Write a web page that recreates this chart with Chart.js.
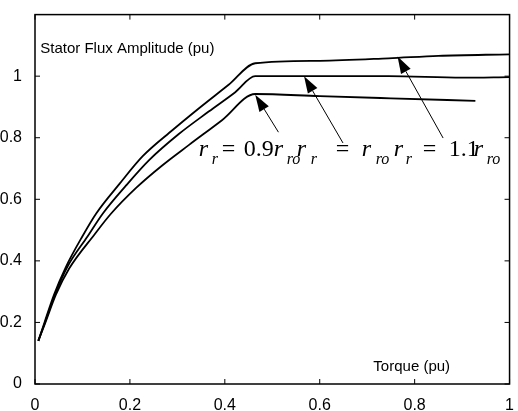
<!DOCTYPE html>
<html>
<head>
<meta charset="utf-8">
<script src="https://cdn.jsdelivr.net/npm/chart.js@4.4.1/dist/chart.umd.min.js"></script>
<style>
  html, body { margin: 0; padding: 0; background: #fff; }
  canvas { display: block; }
</style>
</head>
<body>
<canvas id="fluxChart" width="518" height="411"></canvas>
<script>
// values
const torqueHigh = [0.007, 0.020, 0.040, 0.065, 0.100, 0.129, 0.178, 0.227, 0.290, 0.345, 0.408, 0.464, 0.600, 0.745, 0.850, 1.000];
const fluxHigh   = [0.140, 0.200, 0.290, 0.380, 0.480, 0.554, 0.650, 0.740, 0.825, 0.895, 0.972, 1.042, 1.050, 1.058, 1.066, 1.071];

const torqueMid = [0.007, 0.021, 0.042, 0.068, 0.111, 0.143, 0.192, 0.241, 0.303, 0.366, 0.422, 0.464, 0.600, 0.745, 0.900, 1.000];
const fluxMid   = [0.140, 0.200, 0.290, 0.380, 0.480, 0.554, 0.645, 0.728, 0.812, 0.885, 0.948, 1.000, 1.000, 1.000, 0.995, 0.997];

const torqueLow = [0.007, 0.022, 0.044, 0.072, 0.125, 0.160, 0.213, 0.268, 0.324, 0.394, 0.464, 0.600, 0.750, 0.928];
const fluxLow   = [0.140, 0.200, 0.290, 0.375, 0.485, 0.553, 0.637, 0.710, 0.776, 0.857, 0.942, 0.935, 0.928, 0.920];

const xTicks = [0, 0.2, 0.4, 0.6, 0.8, 1];
const yTicks = [0, 0.2, 0.4, 0.6, 0.8, 1];

// arrows: [tailX, tailY, tipX, tipY] in data units
const arrows = [
  [0.513, 0.818, 0.464, 0.940],
  [0.649, 0.783, 0.567, 1.000],
  [0.860, 0.799, 0.764, 1.064]
];

function pts(xs, ys) {
  return xs.map((x, i) => ({x: x, y: ys[i]}));
}

const lineStyle = {
  borderColor: '#000',
  borderWidth: 1.8,
  pointRadius: 0,
  fill: false,
  cubicInterpolationMode: 'monotone'
};

const serif = '"Liberation Serif", "DejaVu Serif", serif';
// equation pieces: text, dx, dy, italic, size (px offsets from the anchor)
const eqPieces = [
  ['r', 0, 0, true, 24], ['r', 13, 8, true, 16],
  ['=', 23, 0, false, 24], ['0.9', 45, 0, false, 24],
  ['r', 75, 0, true, 24], ['ro', 88, 8, true, 16],
  ['r', 98, 0, true, 24], ['r', 112, 8, true, 16],
  ['=', 137, 0, false, 24],
  ['r', 163, 0, true, 24], ['ro', 177, 8, true, 16],
  ['r', 195, 0, true, 24], ['r', 207, 8, true, 16],
  ['=', 224, 0, false, 24], ['1.1', 250, 0, false, 24],
  ['r', 275, 0, true, 24], ['ro', 288, 8, true, 16]
];

const framePlugin = {
  id: 'frame',
  afterDatasetsDraw(chart) {
    const {ctx, chartArea: a, scales: {x, y}} = chart;
    ctx.save();
    ctx.strokeStyle = '#000';
    ctx.lineWidth = 1.5;
    ctx.strokeRect(a.left, a.top, a.right - a.left, a.bottom - a.top);
    ctx.lineWidth = 1;
    ctx.beginPath();
    xTicks.forEach(v => {
      const px = x.getPixelForValue(v);
      ctx.moveTo(px, a.bottom); ctx.lineTo(px, a.bottom - 5);
      ctx.moveTo(px, a.top); ctx.lineTo(px, a.top + 5);
    });
    yTicks.forEach(v => {
      const py = y.getPixelForValue(v);
      ctx.moveTo(a.left, py); ctx.lineTo(a.left + 5, py);
      ctx.moveTo(a.right, py); ctx.lineTo(a.right - 5, py);
    });
    ctx.stroke();

    // axis texts inside the box
    ctx.fillStyle = '#000';
    ctx.font = '15px "Liberation Sans", Arial, sans-serif';
    ctx.textBaseline = 'middle';
    ctx.textAlign = 'left';
    ctx.fillText('Stator Flux Amplitude (pu)', x.getPixelForValue(0.011), y.getPixelForValue(1.09));
    ctx.fillText('Torque (pu)', x.getPixelForValue(0.713), y.getPixelForValue(0.057));

    // arrows
    arrows.forEach(([x0, y0, x1, y1]) => {
      const ax = x.getPixelForValue(x0), ay = y.getPixelForValue(y0);
      const bx = x.getPixelForValue(x1), by = y.getPixelForValue(y1);
      const ang = Math.atan2(by - ay, bx - ax);
      const len = 17, half = 5.5;
      const hx = bx - len * Math.cos(ang), hy = by - len * Math.sin(ang);
      ctx.beginPath();
      ctx.moveTo(ax, ay); ctx.lineTo(hx, hy);
      ctx.lineWidth = 1;
      ctx.stroke();
      ctx.beginPath();
      ctx.moveTo(bx, by);
      ctx.lineTo(hx + half * Math.sin(ang), hy - half * Math.cos(ang));
      ctx.lineTo(hx - half * Math.sin(ang), hy + half * Math.cos(ang));
      ctx.closePath();
      ctx.fill();
    });

    // equation label
    const ex = x.getPixelForValue(0.345), ey = y.getPixelForValue(0.742);
    ctx.textBaseline = 'alphabetic';
    eqPieces.forEach(([t, dx, dy, it, sz]) => {
      ctx.font = (it ? 'italic ' : '') + sz + 'px ' + serif;
      ctx.fillText(t, ex + dx, ey + dy);
    });
    ctx.restore();
  }
};

const ctx = document.getElementById('fluxChart').getContext('2d');
const fluxChart = new Chart(ctx, {
  type: 'line',
  data: {
    datasets: [
      {label: '1.1 rro', data: pts(torqueHigh, fluxHigh), ...lineStyle},
      {label: 'rro', data: pts(torqueMid, fluxMid), ...lineStyle},
      {label: '0.9 rro', data: pts(torqueLow, fluxLow), ...lineStyle}
    ]
  },
  options: {
    responsive: false,
    animation: false,
    layout: {padding: {top: 7, right: 5, left: 0, bottom: 0}},
    plugins: {
      legend: {display: false},
      tooltip: {enabled: false}
    },
    scales: {
      x: {
        type: 'linear',
        min: 0, max: 1,
        grid: {display: false},
        border: {display: false},
        afterFit: s => { s.height = 27; },
        afterBuildTicks: s => { s.ticks = xTicks.map(v => ({value: v})); },
        ticks: {
          padding: 4,
          color: '#000',
          maxRotation: 0,
          font: {family: '"Liberation Sans", Arial, sans-serif', size: 16},
          callback: v => String(v)
        }
      },
      y: {
        min: 0, max: 1.2,
        grid: {display: false},
        border: {display: false},
        afterFit: s => { s.width = 35; },
        afterBuildTicks: s => { s.ticks = yTicks.map(v => ({value: v})); },
        ticks: {
          padding: 5,
          color: '#000',
          font: {family: '"Liberation Sans", Arial, sans-serif', size: 16},
          callback: v => String(v)
        }
      }
    }
  },
  plugins: [framePlugin]
});
</script>
</body>
</html>
